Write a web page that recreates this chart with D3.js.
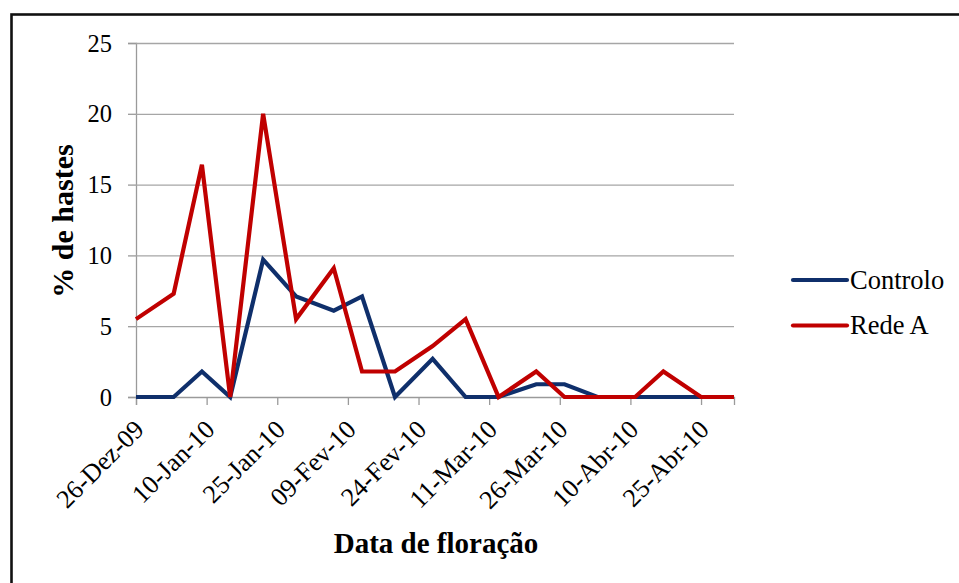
<!DOCTYPE html>
<html>
<head>
<meta charset="utf-8">
<script src="https://cdn.jsdelivr.net/npm/d3@7"></script>
<style>
  body { margin: 0; background: #fff; }
</style>
</head>
<body>
<div id="chart-container"></div>
<script>
// Dates of each reading (weekly, roughly)
const dates = ["2009-12-26", "2010-01-03", "2010-01-09", "2010-01-15", "2010-01-22",
    "2010-01-29", "2010-02-06", "2010-02-12", "2010-02-19", "2010-02-27",
    "2010-03-06", "2010-03-13", "2010-03-21", "2010-03-27", "2010-04-03",
    "2010-04-11", "2010-04-17", "2010-04-25", "2010-05-02"];

// % de hastes per series
const controlo = [0, 0, 1.8, 0, 9.7, 7.1, 6.1, 7.1, 0, 2.7, 0, 0, 0.9, 0.9, 0, 0, 0, 0, 0];
const redeA = [5.5, 7.3, 16.4, 0, 20.0, 5.5, 9.1, 1.8, 1.8, 3.6, 5.5, 0, 1.8, 0, 0, 0, 1.8, 0, 0];

const seriesNames = ["Controlo", "Rede A"];
const seriesColors = ["#0f2f6b", "#c00000"];

// x tick positions and their labels (every 15 days)
const tickDates = ["2009-12-26", "2010-01-10", "2010-01-25", "2010-02-09", "2010-02-24",
    "2010-03-11", "2010-03-26", "2010-04-10", "2010-04-25"];
const tickLabels = ["26-Dez-09", "10-Jan-10", "25-Jan-10", "09-Fev-10", "24-Fev-10",
    "11-Mar-10", "26-Mar-10", "10-Abr-10", "25-Abr-10"];
const yTicks = [0, 5, 10, 15, 20, 25];

const FONT = "Liberation Serif";

function drawChart() {
    const W = 959, H = 583;
    const plot = { left: 136, right: 734, top: 43, bottom: 397 };

    const svg = d3.select("#chart-container")
        .append("svg")
        .attr("width", W)
        .attr("height", H);

    // outer frame (runs off the right and bottom of the picture)
    svg.append("rect")
        .attr("x", 11.5).attr("y", 14.5)
        .attr("width", 1000).attr("height", 1000)
        .attr("fill", "none")
        .attr("stroke", "#111")
        .attr("stroke-width", 2.6);

    const parse = d3.utcParse("%Y-%m-%d");

    const x = d3.scaleUtc()
        .domain([parse(dates[0]), parse(dates[dates.length - 1])])
        .range([plot.left, plot.right]);
    const y = d3.scaleLinear().domain([0, 25]).range([plot.bottom, plot.top]);

    // horizontal gridlines + y ticks
    const yAxis = svg.append("g")
        .attr("transform", `translate(${plot.left},0)`)
        .call(d3.axisLeft(y).tickValues(yTicks).tickSize(8).tickPadding(16));
    yAxis.select(".domain").attr("stroke", "#9a9a9a").attr("stroke-width", 1.3);
    yAxis.selectAll(".tick line").attr("stroke", "#9a9a9a").attr("stroke-width", 1.3);
    yAxis.selectAll(".tick text")
        .style("font-family", FONT)
        .style("font-size", "24.5px")
        .attr("fill", "#000")
        .attr("dy", "0.33em");
    yAxis.selectAll(".tick")
        .filter(d => d > 0)
        .append("line")
        .attr("x1", 0).attr("x2", plot.right - plot.left)
        .attr("stroke", "#a6a6a6").attr("stroke-width", 1.3);

    // x axis
    const labelOf = new Map(tickDates.map((d, i) => [d, tickLabels[i]]));
    const xAxis = svg.append("g")
        .attr("transform", `translate(0,${plot.bottom})`)
        .call(d3.axisBottom(x)
            .tickValues(tickDates.map(parse))
            .tickSize(8)
            .tickFormat(d => labelOf.get(d3.utcFormat("%Y-%m-%d")(d))));
    xAxis.select(".domain").attr("stroke", "#9a9a9a").attr("stroke-width", 1.3);
    xAxis.selectAll(".tick line").attr("stroke", "#9a9a9a").attr("stroke-width", 1.3);
    xAxis.selectAll(".tick text")
        .style("font-family", FONT)
        .style("font-size", "26px")
        .attr("fill", "#000")
        .attr("text-anchor", "end")
        .attr("dy", "0")
        .attr("y", 0)
        .attr("transform", "translate(9,34) rotate(-45)");

    // lines
    const line = d3.line()
        .x((d, i) => x(parse(dates[i])))
        .y(d => y(d))
        .curve(d3.curveLinear);

    [controlo, redeA].forEach((vals, k) => {
        svg.append("path")
            .datum(vals)
            .attr("fill", "none")
            .attr("stroke", seriesColors[k])
            .attr("stroke-width", 4.2)
            .attr("stroke-linejoin", "miter")
            .attr("d", line);
    });

    // axis titles
    svg.append("text")
        .attr("x", 436).attr("y", 553)
        .attr("text-anchor", "middle")
        .style("font-family", FONT)
        .style("font-size", "29px")
        .style("font-weight", "bold")
        .text("Data de floração");

    svg.append("text")
        .attr("transform", "translate(73,221) rotate(-90)")
        .attr("text-anchor", "middle")
        .style("font-family", FONT)
        .style("font-size", "30px")
        .style("font-weight", "bold")
        .text("% de hastes");

    // legend
    const legend = svg.append("g");
    seriesNames.forEach((name, k) => {
        const ly = 280 + k * 45.5;
        legend.append("line")
            .attr("x1", 793).attr("x2", 847)
            .attr("y1", ly).attr("y2", ly)
            .attr("stroke", seriesColors[k])
            .attr("stroke-width", 4.2)
            .attr("stroke-linecap", "round");
        legend.append("text")
            .attr("x", 850).attr("y", ly + 8.5)
            .style("font-family", FONT)
            .style("font-size", "26.5px")
            .text(name);
    });
}

drawChart();
</script>
</body>
</html>
